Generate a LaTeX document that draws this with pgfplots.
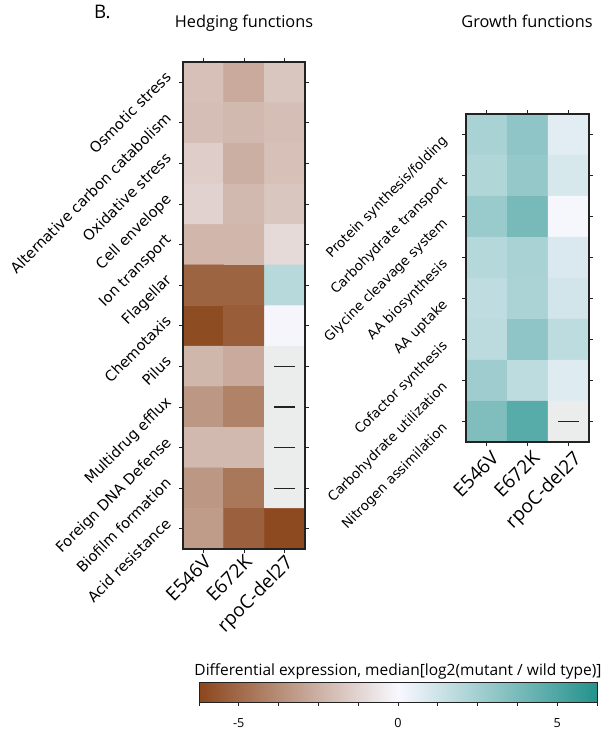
\documentclass[border=0pt]{standalone}
\usepackage{pgfplots}
\pgfplotsset{compat=1.18}
\usepackage{fontspec}
\setmainfont{Open Sans}
\newfontfamily\dv{DejaVu Sans}

\definecolor{nangray}{RGB}{235,237,236}
\definecolor{frame}{RGB}{34,34,34}

\pgfplotsset{
  colormap={brteal}{rgb255(0cm)=(139,70,28); rgb255(1cm)=(248,248,255); rgb255(2cm)=(36,146,140)},
  heat/.style={
    scale only axis,
    y dir=reverse,
    axis on top,
    xmin=-0.5, xmax=2.5,
    xtick={0,1,2},
    xticklabels={E546V, E672K, rpoC-del27},
    tick align=outside,
    xtick pos=both, ytick pos=both,
    xticklabel pos=lower, yticklabel pos=left,
    major tick length=4pt,
    tick style={line width=0.8pt, color=frame},
    axis line style={line width=1.2pt, color=frame},
    point meta min=-6.25, point meta max=6.25,
    xticklabel style={font=\fontsize{19}{21}\selectfont, rotate=45, anchor=north east, inner sep=0pt},
    yticklabel style={rotate=45, anchor=north east, inner sep=0pt},
  },
}

% median log2 fold change per functional category (rows) and strain (columns)
\pgfplotstableread{
x y c
0 0 -1.96
1 0 -2.72
2 0 -1.75
0 1 -2.03
1 1 -2.20
2 1 -2.03
0 2 -1.50
1 2 -2.55
2 2 -1.96
0 3 -1.33
1 3 -2.20
2 3 -1.75
0 4 -2.30
1 4 -2.30
2 4 -1.05
0 5 -5.20
1 5 -5.20
2 5 1.90
0 6 -6.05
1 6 -5.45
2 6 -0.10
0 7 -2.27
1 7 -2.72
2 7 0
0 8 -3.42
1 8 -4.12
2 8 0
0 9 -2.20
1 9 -2.20
2 9 0
0 10 -3.42
1 10 -4.54
2 10 0
0 11 -3.25
1 11 -5.34
2 11 -6.15
}\hedging

\pgfplotstableread{
x y c
0 0 2.34
1 0 3.10
2 0 0.69
0 1 2.10
1 1 2.94
2 1 0.99
0 2 2.80
1 2 3.79
2 2 0.09
0 3 1.98
1 3 2.34
2 3 0.90
0 4 1.68
1 4 2.28
2 4 1.14
0 5 1.80
1 5 3.10
2 5 1.74
0 6 2.64
1 6 1.74
2 6 0.78
0 7 3.55
1 7 4.75
2 7 0
}\growth

\begin{document}
\begin{tikzpicture}[x=1pt,y=1pt]
\path[use as bounding box] (0,0) rectangle (605,-734);

% panel letter and titles
\node[anchor=base west, inner sep=0pt, font=\fontsize{18.7}{20}\selectfont] at (94,-18.5) {B.};
\node[anchor=base, inner sep=0pt, font=\fontsize{16.3}{18}\selectfont] at (244,-27) {Hedging functions};
\node[anchor=base, inner sep=0pt, font=\fontsize{16.3}{18}\selectfont] at (527,-27) {Growth functions};

% hedging heatmap
\begin{axis}[heat,
  at={(183pt,-62pt)}, anchor=north west,
  width=122pt, height=487pt,
  ymin=-0.5, ymax=11.5,
  ytick={0,...,11},
  yticklabels={Osmotic stress, Alternative carbon catabolism, Oxidative stress, Cell envelope, Ion transport, Flagellar, Chemotaxis, Pilus, Multidrug efflux, Foreign DNA Defense, Biofilm formation, Acid resistance},
  yticklabel style={font=\dv\fontsize{14.6}{16}\selectfont, xshift=-2pt, yshift=19pt},
  xticklabel style={xshift=-1pt, yshift=0pt},
]
\addplot[matrix plot*, mesh/cols=3, point meta=explicit] table[x=x, y=y, meta=c] {\hedging};
% categories without data for rpoC-del27
\addplot[fill=nangray, draw=none] coordinates {(1.5,6.5) (2.5,6.5) (2.5,10.5) (1.5,10.5)} -- cycle;
\addplot[only marks, mark=-, mark size=10.5pt, mark options={line width=1.2pt, color=frame}] coordinates {(2,7) (2,8) (2,9) (2,10)};
\end{axis}

% growth heatmap
\begin{axis}[heat,
  at={(466pt,-114pt)}, anchor=north west,
  width=123pt, height=328pt,
  ymin=-0.5, ymax=7.5,
  ytick={0,...,7},
  yticklabels={Protein synthesis/folding, Carbohydrate transport, Glycine cleavage system, AA biosynthesis, AA uptake, Cofactor synthesis, Carbohydrate utilization, Nitrogen assimilation},
  yticklabel style={font=\dv\fontsize{13.4}{15}\selectfont, xshift=-15pt, yshift=15pt},
  xticklabel style={xshift=0pt, yshift=-5pt},
]
\addplot[matrix plot*, mesh/cols=3, point meta=explicit] table[x=x, y=y, meta=c] {\growth};
\addplot[fill=nangray, draw=none] coordinates {(1.5,6.5) (2.5,6.5) (2.5,7.5) (1.5,7.5)} -- cycle;
\addplot[only marks, mark=-, mark size=10.5pt, mark options={line width=1.2pt, color=frame}] coordinates {(2,7)};
\end{axis}

% colour scale
\node[anchor=base, inner sep=0pt, font=\fontsize{15.5}{17}\selectfont] at (398,-675) {Differential expression, median[log2(mutant / wild type)]};
\begin{axis}[
  at={(199pt,-702pt)}, anchor=south west,
  scale only axis, width=398pt, height=20pt,
  xmin=-6.25, xmax=6.25, ymin=0, ymax=1,
  ytick=\empty,
  xtick={-5,0,5}, xticklabels={-5,0,5},
  minor xtick={-6.25,-3.75,-2.5,-1.25,1.25,2.5,3.75,6.25},
  tick align=outside, xtick pos=lower,
  major tick length=4pt, minor tick length=4pt,
  tick style={line width=0.8pt, color=frame},
  axis line style={line width=1pt, color=frame},
  axis on top,
  point meta min=-6.25, point meta max=6.25,
  xticklabel style={font=\fontsize{12.6}{14}\selectfont, yshift=-9pt},
]
\addplot[patch, shader=interp, point meta=x] coordinates {(-6.25,0) (6.25,0) (6.25,1) (-6.25,0) (6.25,1) (-6.25,1)};
\end{axis}
\end{tikzpicture}
\end{document}
